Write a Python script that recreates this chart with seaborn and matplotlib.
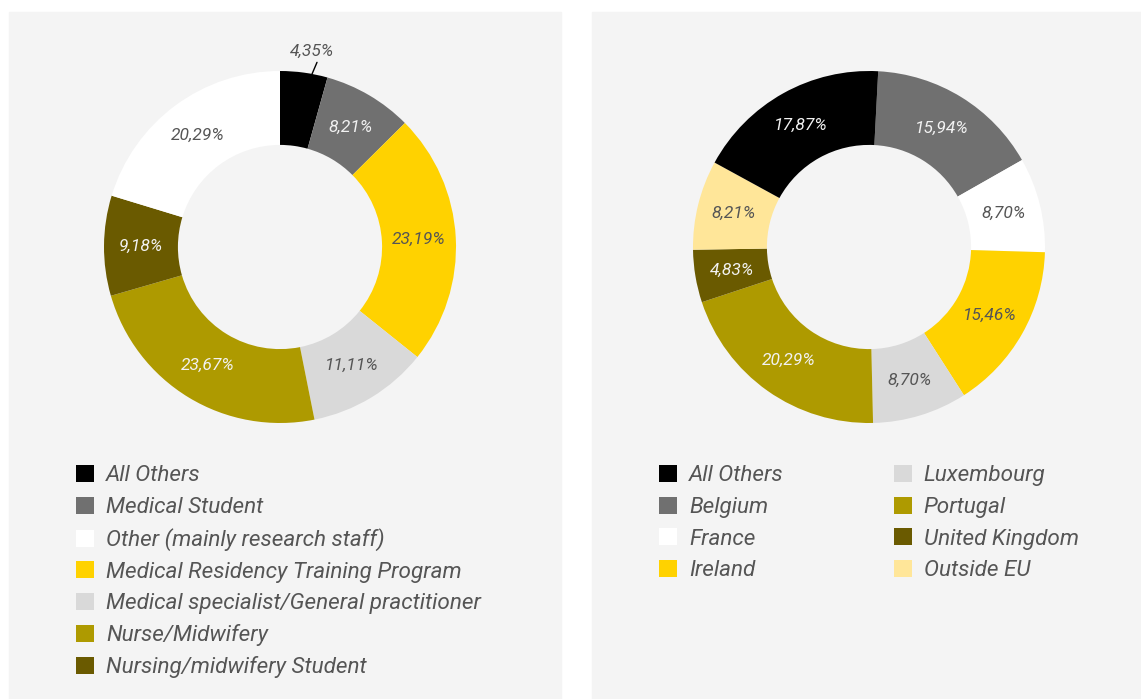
import numpy as np
import matplotlib
matplotlib.use('Agg')
import matplotlib.pyplot as plt
from matplotlib.patches import Rectangle, Patch
import seaborn as sns

# left donut: role of participants (legend order)
roles = ['All Others', 'Medical Student', 'Other (mainly research staff)',
         'Medical Residency Training Program', 'Medical specialist/General practitioner',
         'Nurse/Midwifery', 'Nursing/midwifery Student']
role_pct = [4.35, 8.21, 20.29, 23.19, 11.11, 23.67, 9.18]
role_pie_order = ['All Others', 'Medical Student', 'Medical Residency Training Program',
                  'Medical specialist/General practitioner', 'Nurse/Midwifery',
                  'Nursing/midwifery Student', 'Other (mainly research staff)']

# right donut: country (legend order)
countries = ['All Others', 'Belgium', 'France', 'Ireland',
             'Luxembourg', 'Portugal', 'United Kingdom', 'Outside EU']
country_pct = [17.87, 15.94, 8.70, 15.46, 8.70, 20.29, 4.83, 8.21]
country_pie_order = ['Belgium', 'France', 'Ireland', 'Luxembourg', 'Portugal',
                     'United Kingdom', 'Outside EU', 'All Others']

role_colors = ['#000000', '#707070', '#FFFFFF', '#FFD200', '#D9D9D9', '#AE9A00', '#6A5A00']
country_colors = ['#000000', '#707070', '#FFFFFF', '#FFD200',
                  '#D9D9D9', '#AE9A00', '#6A5A00', '#FFE699']
dark = {'#000000', '#707070', '#AE9A00', '#6A5A00'}

sns.set_style('white')
plt.rcParams['font.family'] = ['Roboto', 'DejaVu Sans']

W, H = 1141, 699
fig = plt.figure(figsize=(W / 100, H / 100), dpi=100, facecolor='white')

BG = '#F4F4F4'
TXT = '#555555'
# panel backgrounds (pixel boxes, top-left origin)
for x0, x1 in [(9, 561), (592, 1141)]:
    fig.add_artist(Rectangle((x0 / W, 0), (x1 - x0) / W, (H - 12) / H,
                             transform=fig.transFigure, color=BG, zorder=0))


def fmt(v):
    return f'{v:.2f}%'.replace('.', ',')


def donut(cx, cy, r, names, pct, colors, order, start, outside=()):
    ax = fig.add_axes([(cx - r) / W, 1 - (cy + r) / H, 2 * r / W, 2 * r / H])
    ax.set_facecolor('none')
    lookup = dict(zip(names, pct))
    cmap = dict(zip(names, colors))
    vals = [lookup[n] for n in order]
    cols = [cmap[n] for n in order]
    wedges, _ = ax.pie(vals, colors=cols, startangle=start, counterclock=False,
                       radius=1, wedgeprops=dict(width=0.42, linewidth=0))
    ax.set_xlim(-1, 1)
    ax.set_ylim(-1, 1)
    for w, n, v, c in zip(wedges, order, vals, cols):
        mid = (w.theta1 + w.theta2) / 2
        ang = np.deg2rad(mid)
        tc = '#F2F2F2' if c in dark else TXT
        if n in outside:
            a0, a1 = np.deg2rad(mid - 2.6), np.deg2rad(mid - 3.5)
            ax.plot([np.cos(a0) * 0.995, np.cos(a1) * 1.07],
                    [np.sin(a0) * 0.995, np.sin(a1) * 1.07],
                    color='black', lw=1, clip_on=False)
            a2 = np.deg2rad(mid - 1.5)
            ax.text(np.cos(a2) * 1.125, np.sin(a2) * 1.125, fmt(v),
                    ha='center', va='center', fontsize=12.5, style='italic',
                    color=TXT)
        else:
            ax.text(np.cos(ang) * 0.79, np.sin(ang) * 0.79, fmt(v),
                    ha='center', va='center', fontsize=12.5, style='italic', color=tc)
    return ax


donut(280, 247, 176, roles, role_pct, role_colors, role_pie_order, 90,
      outside=('All Others',))
donut(869, 247, 176, countries, country_pct, country_colors, country_pie_order, 87)


def legend(names, colors, x, y, ncol):
    handles = [Patch(facecolor=c, edgecolor='none') for c in colors]
    leg = fig.legend(handles, names, loc='upper left',
                     bbox_to_anchor=(x / W, 1 - y / H), ncol=ncol, frameon=False,
                     prop=dict(family='Roboto', style='italic', size=16.2),
                     labelcolor=TXT, handlelength=0.8, handleheight=0.8,
                     handletextpad=0.53, labelspacing=0.45, columnspacing=4.9,
                     borderpad=0, borderaxespad=0)
    return leg


legend(roles, role_colors, 76, 465, 1)
legend(countries, country_colors, 659, 465, 2)

fig.savefig('out.png', dpi=100, facecolor='white')
